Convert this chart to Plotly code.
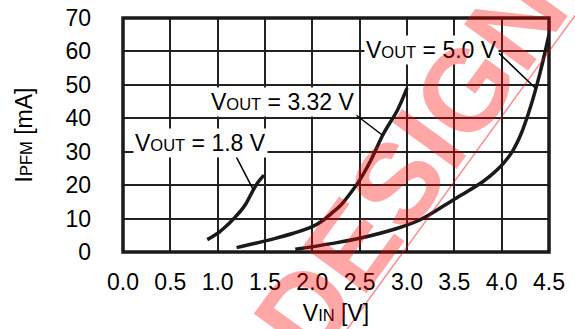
import plotly.graph_objects as go

# Input voltage [V] vs. PFM current [mA] for three output voltages
vin_18 = [0.89, 1.0, 1.1, 1.17, 1.25, 1.3, 1.377, 1.43, 1.49]
ipfm_18 = [3.7, 5.6, 8.0, 10.0, 12.5, 14.5, 18.6, 21.0, 23.0]

vin_332 = [1.2, 1.4, 1.6, 1.8, 2.0, 2.1, 2.2, 2.3, 2.4, 2.5, 2.61, 2.75, 2.9, 3.0]
ipfm_332 = [1.3, 2.6, 4.0, 5.6, 7.6, 9.2, 11.5, 14.0, 17.5, 21.5, 27.0, 35.3, 42.5, 49.0]

vin_50 = [1.82, 2.2, 2.5, 2.9, 3.15, 3.5, 3.8, 3.95, 4.1, 4.2, 4.3, 4.4, 4.5]
ipfm_50 = [0.8, 2.5, 4.1, 7.1, 9.8, 15.8, 21.0, 24.5, 29.5, 35.0, 43.0, 53.0, 65.0]

x_ticks = [0.0, 0.5, 1.0, 1.5, 2.0, 2.5, 3.0, 3.5, 4.0, 4.5]
y_ticks = [0, 10, 20, 30, 40, 50, 60, 70]

# Curve labels: (text position, leader line start, leader line end)
labels = [
    ("1.8", (0.822, 32.6), (1.187, 29.0), (1.377, 18.6)),
    ("3.32", (1.689, 44.8), (2.437, 41.5), (2.738, 35.0)),
    ("5.0", (3.259, 60.5), (3.97, 59.5), (4.358, 49.0)),
]

FONT = "Liberation Sans, Arial, Helvetica, sans-serif"
INK = "#1a1a1a"
BIG = 23
SMALL = 16.5

fig = go.Figure()
for xs, ys in [(vin_18, ipfm_18), (vin_332, ipfm_332), (vin_50, ipfm_50)]:
    fig.add_trace(go.Scatter(
        x=xs, y=ys, mode="lines",
        line=dict(color=INK, width=3.5, shape="spline", smoothing=1.0),
        showlegend=False, hoverinfo="skip",
    ))

axis_common = dict(
    showgrid=True, gridcolor="#222222", gridwidth=1.7,
    zeroline=False, showline=False, ticks="",
    tickfont=dict(family=FONT, size=BIG, color="#000000"),
    fixedrange=True,
)

fig.update_xaxes(
    range=[0, 4.5], tickvals=x_ticks,
    ticktext=[f"{v:.1f}" for v in x_ticks],
    ticklabelstandoff=14,
    title=dict(
        text=f"V<span style='font-size:{SMALL}px'>IN</span> [V]",
        font=dict(family=FONT, size=BIG, color="#000000"),
        standoff=10,
    ),
    **axis_common,
)
fig.update_yaxes(
    range=[0, 70], tickvals=y_ticks,
    ticklabelstandoff=31,
    title=dict(
        text=f"I<span style='font-size:{SMALL}px'>PFM</span> [mA]",
        font=dict(family=FONT, size=BIG, color="#000000"),
        standoff=26,
    ),
    **axis_common,
)

# Heavy frame around the plotting area
fig.add_shape(type="rect", xref="paper", yref="paper", x0=0, y0=0, x1=1, y1=1,
              line=dict(color=INK, width=3.5), layer="above")

for vout, (tx, ty), (lx0, ly0), (lx1, ly1) in labels:
    fig.add_shape(type="line", xref="x", yref="y", x0=lx0, y0=ly0, x1=lx1, y1=ly1,
                  line=dict(color="#000000", width=1.5), layer="above")
    fig.add_annotation(
        x=tx, y=ty, xref="x", yref="y", showarrow=False,
        text=f"V<span style='font-size:{SMALL}px'>OUT</span> = {vout} V",
        font=dict(family=FONT, size=BIG, color="#000000"),
        bgcolor="#ffffff", borderpad=1,
        xanchor="center", yanchor="middle",
    )

# Watermark stamp
fig.add_shape(type="line", xref="paper", yref="paper",
              x0=1.1206, y0=1.1596, x1=0.487, y1=-0.428,
              line=dict(color="rgba(255,0,0,0.45)", width=1.5), layer="above")
fig.add_annotation(
    x=0.674, y=0.372, xref="paper", yref="paper", showarrow=False,
    text="DESIGN", textangle=-54,
    font=dict(family=FONT, size=115, color="rgba(255,0,0,0.35)", weight="bold"),
    xanchor="center", yanchor="middle",
)

fig.update_layout(
    width=575, height=329,
    margin=dict(l=122.5, r=26.4, t=18.3, b=77, autoexpand=False),
    paper_bgcolor="#ffffff", plot_bgcolor="#ffffff",
    showlegend=False,
)

fig.write_html("out.html", config={"displayModeBar": False})
